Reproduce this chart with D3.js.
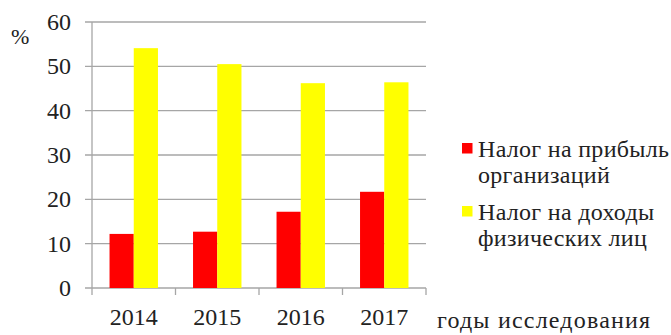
<!DOCTYPE html>
<html><head><meta charset="utf-8">
<script src="https://cdn.jsdelivr.net/npm/d3@7"></script>
<style>body{margin:0;background:#fff}svg{display:block}</style>
</head><body>
<script>
const years = ["2014","2015","2016","2017"];
const profitTax = [12.2, 12.7, 17.2, 21.7];
const incomeTax = [54.1, 50.5, 46.2, 46.4];
const seriesNames = [["Налог на прибыль","организаций"],["Налог на доходы","физических лиц"]];
const seriesColors = ["#ff0000","#ffff00"];
const yTicks = [0,10,20,30,40,50,60];

const W=671,H=335;
const svg=d3.select("body").append("svg").attr("width",W).attr("height",H)
  .attr("font-family","'Liberation Serif', 'DejaVu Serif', serif");
const x0=92,x1=426,yTop=22,yBot=288;
const x=d3.scaleBand().domain(years).range([x0,x1]).paddingInner(0).paddingOuter(0);
const y=d3.scaleLinear().domain([0,60]).range([yBot,yTop]);
const grid="#a6a6a6";
const txt="#222";

svg.append("g").selectAll("line").data(yTicks).join("line")
  .attr("x1",x0-7).attr("x2",x1).attr("y1",d=>y(d)).attr("y2",d=>y(d))
  .attr("stroke",grid).attr("stroke-width",1.3);
svg.append("line").attr("x1",x0).attr("x2",x0).attr("y1",yTop).attr("y2",yBot)
  .attr("stroke",grid).attr("stroke-width",1.3);
svg.append("g").selectAll("line").data(years.concat(["end"])).join("line")
  .attr("x1",(d,i)=>x0+i*x.bandwidth()).attr("x2",(d,i)=>x0+i*x.bandwidth())
  .attr("y1",yBot).attr("y2",yBot+7).attr("stroke",grid).attr("stroke-width",1.3);

const bw=x.bandwidth()*0.29;
const data=[profitTax,incomeTax];
data.forEach((vals,s)=>{
  svg.append("g").selectAll("rect").data(vals).join("rect")
    .attr("x",(d,i)=>x(years[i])+x.bandwidth()/2-bw+s*bw)
    .attr("width",bw)
    .attr("y",d=>y(d)).attr("height",d=>yBot-y(d))
    .attr("fill",seriesColors[s]);
});

svg.append("g").selectAll("text").data(yTicks).join("text")
  .attr("x",71).attr("y",d=>y(d)+8).attr("text-anchor","end").attr("fill",txt)
  .attr("font-size",24).text(d=>d);
svg.append("text").attr("x",11).attr("y",44).attr("font-size",22).attr("fill",txt).text("%");
svg.append("g").selectAll("text").data(years).join("text")
  .attr("x",d=>x(d)+x.bandwidth()/2).attr("y",325).attr("text-anchor","middle").attr("fill",txt)
  .attr("font-size",24).text(d=>d);
svg.append("text").attr("x",437).attr("y",328).attr("font-size",24).attr("letter-spacing",1.2)
  .attr("fill",txt).text("годы исследования");

const leg=svg.append("g");
const legY=[157,220];
seriesNames.forEach((lines,s)=>{
  leg.append("rect").attr("x",462).attr("y",legY[s]-14).attr("width",10.5).attr("height",10.5).attr("fill",seriesColors[s]);
  lines.forEach((t,j)=>{
    leg.append("text").attr("x",478).attr("y",legY[s]+j*26).attr("font-size",24).attr("letter-spacing",0.3)
      .attr("fill",txt).text(t);
  });
});
</script>
</body></html>
